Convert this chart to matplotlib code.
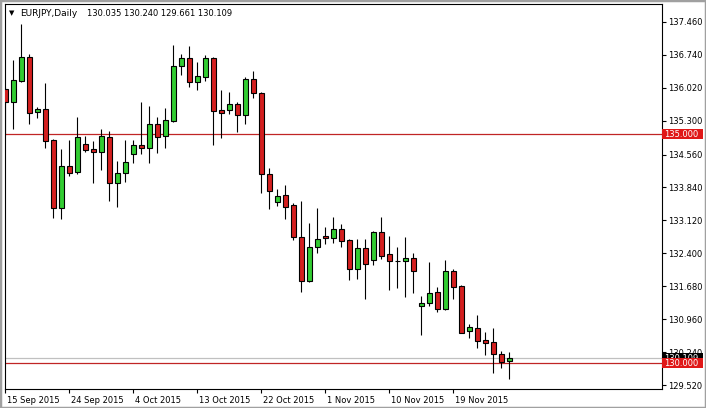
import matplotlib
matplotlib.use("Agg")
import matplotlib.pyplot as plt
from matplotlib.patches import Rectangle
from matplotlib.transforms import ScaledTranslation, blended_transform_factory
import pandas as pd

# EURJPY diario (el broker tiene barra de domingo)
aperturas = [135.994, 135.717, 136.176, 136.688, 135.498, 135.550, 134.879, 133.385,
             134.310, 134.172, 134.791, 134.682, 134.610, 134.938, 133.932, 134.151,
             134.566, 134.763, 134.697, 135.229, 134.960, 135.301, 136.504, 136.672,
             136.154, 136.263, 136.679, 135.535, 135.542, 135.666, 135.432, 136.220,
             135.900, 134.129, 133.529, 133.669, 133.457, 132.751, 131.802, 132.532,
             132.779, 132.729, 132.926, 132.692, 132.064, 132.510, 132.248, 132.860,
             132.386, 132.232, 132.226, 132.292, 131.242, 131.307, 131.548, 131.183,
             132.014, 131.686, 130.708, 130.767, 130.505, 130.454, 130.198, 130.035]
maximos = [136.038, 136.629, 137.410, 136.753, 135.607, 136.119, 134.901, 134.682,
           134.879, 135.389, 134.973, 134.857, 135.120, 135.076, 134.420, 134.879,
           134.879, 135.717, 135.623, 135.389, 135.585, 136.957, 136.753, 136.935,
           136.578, 136.738, 136.701, 135.973, 135.922, 135.717, 136.263, 136.388,
           135.929, 134.260, 133.801, 133.895, 133.494, 133.538, 133.057, 133.398,
           132.970, 133.188, 133.042, 132.707, 132.707, 132.707, 132.889, 133.188,
           132.779, 132.532, 132.751, 132.401, 131.474, 132.217, 131.657, 132.254,
           132.057, 131.708, 130.848, 131.051, 130.680, 130.774, 130.264, 130.240]
minimos = [134.988, 135.120, 136.154, 135.222, 135.367, 134.697, 133.180, 133.145,
           134.098, 134.135, 134.610, 133.932, 134.223, 133.551, 133.407, 133.967,
           134.382, 134.566, 134.382, 134.601, 134.711, 135.279, 136.301, 136.032,
           135.973, 136.176, 134.770, 134.929, 135.448, 135.061, 135.222, 135.804,
           133.726, 133.363, 133.435, 133.145, 132.692, 131.561, 131.780, 132.401,
           132.604, 132.633, 132.532, 131.817, 131.839, 131.401, 132.145, 132.276,
           131.598, 131.635, 131.452, 131.539, 130.620, 131.255, 131.110, 131.161,
           131.408, 130.658, 130.555, 130.336, 130.183, 129.776, 129.886, 129.661]
cierres = [135.710, 136.185, 136.688, 135.476, 135.550, 134.864, 133.385, 134.310,
           134.164, 134.938, 134.660, 134.623, 134.960, 133.932, 134.151, 134.398,
           134.770, 134.697, 135.229, 134.951, 135.310, 136.497, 136.672, 136.154,
           136.279, 136.679, 135.520, 135.476, 135.666, 135.432, 136.220, 135.900,
           134.129, 133.763, 133.654, 133.420, 132.751, 131.788, 132.532, 132.707,
           132.729, 132.926, 132.676, 132.064, 132.510, 132.173, 132.867, 132.348,
           132.239, 132.226, 132.292, 132.007, 131.307, 131.539, 131.189, 132.014,
           131.670, 130.664, 130.789, 130.489, 130.446, 130.192, 130.030, 130.109]

niveles = [135.000, 130.000]
precio_actual = 130.109
marcas_precio = [137.460, 136.740, 136.020, 135.300, 134.560, 133.840,
                 133.120, 132.400, 131.680, 130.960, 130.240, 129.520]

dias = [d for d in pd.date_range("2015-09-15", "2015-11-27", freq="D") if d.weekday() != 5]

verde = "#32cd32"
rojo = "#d41f1f"
linea_roja = "#c02525"
ancho = 0.55

fig = plt.figure(figsize=(7.06, 4.08), dpi=100)
ax = fig.add_axes([4.5 / 706, 1 - 389 / 408, 657 / 706, 385 / 408])

for y in niveles:
    ax.axhline(y, color=linea_roja, lw=0.9, zorder=1)
ax.axhline(precio_actual, color="#c0c0c0", lw=0.9, zorder=1)

x = list(range(len(aperturas)))
ax.vlines(x, minimos, maximos, color="black", lw=0.8, zorder=2)
for i in x:
    o, c = aperturas[i], cierres[i]
    color = verde if c >= o else rojo
    ax.add_patch(Rectangle((i - ancho / 2, min(o, c)), ancho, abs(c - o),
                           fc=color, ec="black", lw=0.8, zorder=3))

ax.set_xlim(-0.1, 82.0)
ax.set_ylim(129.433, 137.853)

ax.yaxis.tick_right()
ax.set_yticks(marcas_precio)
ax.set_yticklabels([f"{p:.3f}" for p in marcas_precio])
ax.tick_params(axis="y", length=3, width=0.8, labelsize=6, pad=2)

pos_x = list(range(0, len(dias), 8))
ax.set_xticks(pos_x)
ax.set_xticklabels([f"{dias[i].day} {dias[i]:%b %Y}" for i in pos_x])
ax.tick_params(axis="x", length=3, width=0.8, labelsize=6, pad=2)
corrimiento = ScaledTranslation(2 / 100, 0, fig.dpi_scale_trans)
for lbl in ax.get_xticklabels():
    lbl.set_ha("left")
    lbl.set_transform(lbl.get_transform() + corrimiento)

for s in ax.spines.values():
    s.set_color("black")
    s.set_linewidth(0.8)

# etiquetas de precio con fondo en el eje derecho
tr = blended_transform_factory(ax.transAxes, ax.transData)
alto = 10 / 45.72
etiquetas = [(precio_actual, "black", 4), (niveles[0], "#e01818", 5), (niveles[1], "#e01818", 5)]
for p, fondo, z in etiquetas:
    ax.add_patch(Rectangle((1.0, p - alto / 2), 41 / 657, alto, transform=tr,
                           fc=fondo, ec="none", clip_on=False, zorder=z))
    ax.text(1.0, p, f"{p:.3f}", transform=tr + ScaledTranslation(3 / 100, 0, fig.dpi_scale_trans),
            ha="left", va="center", color="white", fontsize=6, clip_on=False, zorder=z)

fig.text(9 / 706, 1 - 13 / 408, "\u25bc", fontsize=5, va="center")
fig.text(20 / 706, 1 - 13 / 408, "EURJPY,Daily", fontsize=6.5, va="center")
fig.text(87 / 706, 1 - 13 / 408, " ".join(f"{v:.3f}" for v in
         [aperturas[-1], maximos[-1], minimos[-1], cierres[-1]]), fontsize=6, va="center")

fig.add_artist(Rectangle((0, 0), 1, 1, transform=fig.transFigure, fill=False,
                         ec="#a0a0a0", lw=2.5))

fig.savefig("out.png", dpi=100)
